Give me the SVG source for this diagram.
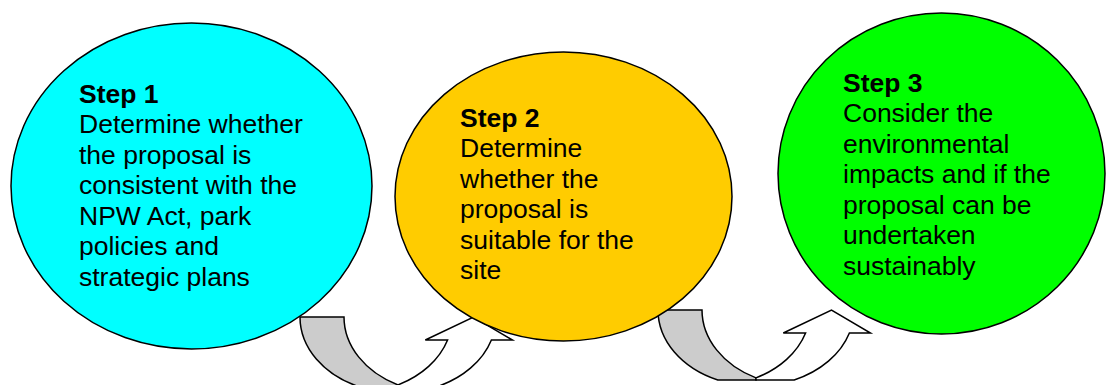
<svg xmlns="http://www.w3.org/2000/svg" xmlns:xlink="http://www.w3.org/1999/xlink" width="1107" height="385" viewBox="0 0 1107 385">
  <style>
    .node { stroke: #000; stroke-width: 1.5; }
    .band { fill: #cccccc; stroke: #000; stroke-width: 1.5; stroke-linejoin: miter; }
    .arrow { fill: #ffffff; stroke: #000; stroke-width: 1.5; stroke-linejoin: miter; }
    text { font-family: "Liberation Sans", Arial, sans-serif; font-size: 26.5px; fill: #000; }
    .title { font-weight: bold; }
  </style>
  <defs>
    <g id="curved-up-arrow">
      <path class="band" d="M658,310 H702 A98,76 0 0,0 756,377.9 L756,380 H717.8 A98,76 0 0,1 658,310 Z"/>
      <path class="arrow" d="M805.6,333 L783.3,333 L831.5,310 L870.5,333 L849.4,333 A98,76 0 0,1 794.2,380 H756 V377.9 A98,76 0 0,0 805.6,333 Z"/>
    </g>
  </defs>
  <g id="connectors">
    <use xlink:href="#curved-up-arrow" href="#curved-up-arrow" transform="translate(-358,7)"/>
    <use xlink:href="#curved-up-arrow" href="#curved-up-arrow"/>
  </g>
  <g id="step1">
    <ellipse class="node" cx="191.5" cy="186" rx="180.5" ry="163" fill="#00ffff"/>
    <text x="79" y="102.5">
      <tspan class="title" x="79" y="102.5">Step 1</tspan>
      <tspan x="79" y="133">Determine whether</tspan>
      <tspan x="79" y="163.5">the proposal is</tspan>
      <tspan x="79" y="194">consistent with the</tspan>
      <tspan x="79" y="224.5">NPW Act, park</tspan>
      <tspan x="79" y="255">policies and</tspan>
      <tspan x="79" y="285.5">strategic plans</tspan>
    </text>
  </g>
  <g id="step2">
    <ellipse class="node" cx="563.5" cy="196.5" rx="168.5" ry="144.5" fill="#ffcc00"/>
    <text x="460" y="126.5">
      <tspan class="title" x="460" y="126.5">Step 2</tspan>
      <tspan x="460" y="157">Determine</tspan>
      <tspan x="460" y="187.5">whether the</tspan>
      <tspan x="460" y="218">proposal is</tspan>
      <tspan x="460" y="248.5">suitable for the</tspan>
      <tspan x="460" y="279">site</tspan>
    </text>
  </g>
  <g id="step3">
    <ellipse class="node" cx="941.5" cy="173.5" rx="163.5" ry="160.5" fill="#00ff00"/>
    <text x="843" y="91.5">
      <tspan class="title" x="843" y="91.5">Step 3</tspan>
      <tspan x="843" y="122">Consider the</tspan>
      <tspan x="843" y="152.5">environmental</tspan>
      <tspan x="843" y="183">impacts and if the</tspan>
      <tspan x="843" y="213.5">proposal can be</tspan>
      <tspan x="843" y="244">undertaken</tspan>
      <tspan x="843" y="274.5">sustainably</tspan>
    </text>
  </g>
</svg>
